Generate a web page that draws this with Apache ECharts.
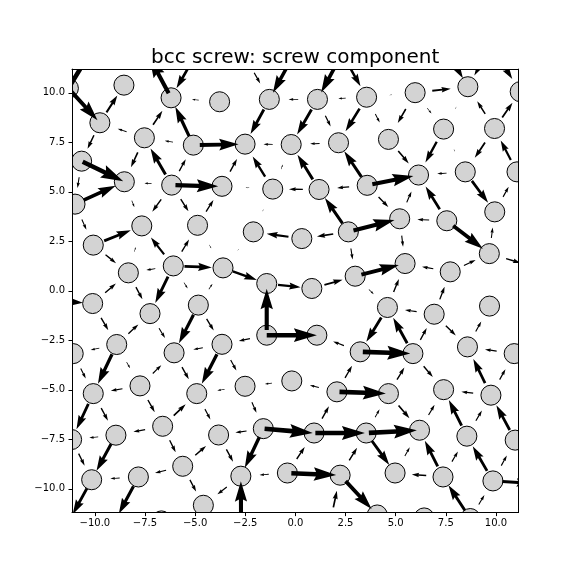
<!DOCTYPE html>
<html><head><meta charset="utf-8">
<script src="https://cdn.jsdelivr.net/npm/echarts@6/dist/echarts.min.js"></script>
<style>html,body{margin:0;padding:0;background:#fff}#c{width:576px;height:576px}</style>
</head><body><div id="c"></div>
<script>
// atom positions (data units); 1-based numbering in arrow lists
const atomX = [
 -11.32,-8.55,-6.20,-3.78,-1.30,1.10,3.55,5.97,8.60,11.21,
 -9.75,-7.53,-5.09,-2.51,-0.21,2.15,4.64,7.39,9.93,
 -10.66,-8.53,-6.17,-3.66,-1.13,1.18,3.58,6.14,8.47,11.05,
 -10.99,-7.66,-4.88,-2.10,0.32,2.64,5.20,7.55,9.94,
 -10.08,-8.33,-6.09,-3.61,-1.43,0.82,2.98,5.47,7.72,9.67,
 -10.11,-7.25,-4.84,4.59,6.92,9.68,
 -11.08,-8.91,-6.05,-3.66,-1.43,1.07,3.23,5.86,8.58,10.91,
 -10.08,-7.75,-4.92,-2.51,-0.18,2.07,4.64,7.39,9.75,
 -11.16,-8.95,-6.62,-3.83,-1.60,0.93,3.53,6.19,8.55,10.96,
 -10.16,-7.83,-5.62,-2.72,-0.40,2.23,4.97,7.36,9.85,
 -6.68,-4.59,4.08,6.42,8.72,1.73,-9.05,-11.34,-2.71,
 -10.0,-7.40,-5.00,-2.51,-0.11,2.33,4.83,7.37,9.77,
 -13.05,-12.54,12.06,12.21
];
const atomY = [
 10.23,10.39,9.75,9.55,9.67,9.67,9.78,10.01,10.31,10.06,
 8.49,7.73,7.36,7.41,7.39,7.48,7.65,8.17,8.20,
 6.55,5.51,5.34,5.28,5.14,5.12,5.33,5.85,6.01,6.01,
 4.38,3.28,3.31,2.98,2.64,2.98,3.64,3.54,3.99,
 2.31,0.91,1.26,1.16,0.37,0.12,0.74,1.38,0.96,1.88,
 -0.64,-1.15,-0.72,-0.84,-1.18,-0.77,
 -3.17,-2.71,-3.13,-2.70,-2.24,-2.24,-3.08,-3.17,-2.83,-3.17,
 -5.19,-4.80,-5.19,-4.82,-4.55,-5.10,-5.19,-4.99,-5.27,
 -7.51,-7.29,-6.84,-7.28,-6.96,-7.18,-7.18,-7.04,-7.34,-7.54,
 -9.54,-9.40,-8.86,-9.36,-9.20,-9.31,-9.20,-9.40,-9.60,
 -11.62,-10.83,-11.32,-11.47,-11.50,-11.72,-11.72,-11.72,-11.93,
 12.43,12.03,11.87,11.82,11.87,11.98,12.18,12.43,12.38,
 7.38,-0.45,1.16,-9.75
];
// differential-displacement arrows: from atom -> to atom, fraction of neighbour distance
const arrowFrom = [
 1,1,11,3,104,4,12,13,12,13, 13,11,12,22,22,20,30,20,22,22,
 21,22,22,32,111,105,106,107,107,6, 7,5,6,6,7,15,16,23,24,24,
 25,26,24,25,26,35,24,109,110,110, 8,7,8,8,9,19,19,17,18,18,
 19,29,26,28,28,38,26,36,37,7, 30,39,40,41,41,32,39,41,41,41,
 41,51,40,49,112,49,56,50,51,51, 56,58,56,56,58,34,35,35,42,42,
 43,44,35,45,59,59,59,61,58,52, 61,37,37,48,36,45,47,47,48,52,
 53,53,62,62,53,63,64,73,55,66, 57,68,66,66,65,65,76,67,76,75,
 75,74,76,86,85,86,86,84,85,69, 70,70,70,68,79,78,79,78,78,77,
 88,89,88,88,87,101,98,89,71,62, 73,73,80,71,81,82,82,83,80,80,
 90,91,91,92,92,91,92,97,97
];
const arrowTo = [
 102,11,2,103,3,3,3,3,11,12, 14,20,21,12,13,21,21,30,21,23,
 31,31,32,23,20,5,5,6,7,5, 6,14,15,16,16,14,15,14,14,15,
 15,16,23,24,25,25,33,9,9,10, 9,17,17,18,18,9,10,27,27,28,
 28,19,27,27,38,29,36,27,27,8, 39,31,31,31,32,42,40,40,42,50,
 51,42,50,40,49,56,50,57,57,58, 55,57,65,66,67,33,34,36,33,43,
 44,45,45,52,43,60,58,60,68,61, 62,36,48,38,46,46,46,48,113,46,
 47,52,52,53,63,54,63,63,65,57, 67,67,65,76,74,75,67,77,75,74,
 84,84,86,77,84,85,94,100,99,68, 69,61,71,78,70,79,80,77,87,87,
 79,80,89,87,94,87,89,95,62,72, 64,72,71,81,72,72,73,73,81,90,
 81,81,82,82,83,90,114,91,92
];
const arrowFrac = [
 .95,.85,.45,.8,.55,.14,.35,.62,.2,.17, .75,.35,.34,.55,.3,.95,.65,.25,.15,.85,
 .15,.3,.3,.3,.6,.25,.7,.7,.5,.2, .15,.55,.55,.25,.5,.2,.2,.3,.45,.1,
 .55,.6,.07,.3,.25,.6,.05,.6,.45,.45, .35,.2,.3,.15,.05,.3,.4,.35,.45,.05,
 .35,.45,.8,.2,.55,.25,.3,.25,.5,.05, .25,.55,.1,.42,.3,.08,.3,.2,.55,.55,
 .15,.15,.3,.3,.6,.3,.3,.25,.6,.3, .2,.2,.6,.15,.6,.45,.35,.8,.05,.55,
 .5,.42,.25,.15,.8,1.0,.25,.25,.25,.55, .9,.25,.7,.25,.25,.75,.25,.3,.3,.3,
 .3,.25,.55,.3,.3,.25,.25,.5,.25,.25, .3,.15,.25,.3,.55,.3,.35,.25,.25,.2,
 .6,.3,.3,.3,.2,.25,.3,.6,.6,.15, .2,.3,.9,.25,.3,.95,.95,.25,.65,.3,
 .3,.3,.85,.2,.25,.8,.35,.7,.3,.3, .25,.25,.2,.35,.25,.55,.25,.55,.9,.6,
 .2,.55,.25,.55,.25,.3,.6,.6,.25
];
const tickValues = [-10, -7.5, -5, -2.5, 0, 2.5, 5, 7.5, 10];
const titleText = 'bcc screw: screw component';

const fmt = v => (v < 0 ? '\u2212' : '') + Math.abs(v).toFixed(1);
const FONT = 'DejaVu Sans';

const atomData = atomX.map((x, i) => [x, atomY[i]]);
const arrowData = arrowFrom.map((f, k) => [f - 1, arrowTo[k] - 1, arrowFrac[k]]);

function renderAtom(params, api) {
  const p = api.coord([api.value(0), api.value(1)]);
  const r = api.size([0.5, 0])[0];
  return { type: 'circle', shape: { cx: p[0], cy: p[1], r: r },
           style: { fill: '#d3d3d3', stroke: '#000', lineWidth: 1 } };
}
function renderArrow(params, api) {
  const i = api.value(0), j = api.value(1), f = api.value(2);
  const p1 = api.coord([atomX[i], atomY[i]]);
  const p2 = api.coord([atomX[j], atomY[j]]);
  const dx = p2[0] - p1[0], dy = p2[1] - p1[1];
  const d = Math.hypot(dx, dy);
  const ux = dx / d, uy = dy / d, nx = -uy, ny = ux;
  const L = f * d;
  const mx = (p1[0] + p2[0]) / 2, my = (p1[1] + p2[1]) / 2;
  const tx = mx - ux * L / 2, ty = my - uy * L / 2;
  const W = 4.6, minLen = 10 * W;
  let xs, ys;
  if (L >= minLen) {
    xs = [0, L - 4.5 * W, L - 5 * W, L]; ys = [0.5 * W, 0.5 * W, 1.5 * W, 0];
  } else {
    const s = L / minLen;
    xs = [0, 5.5 * W * s, 5 * W * s, 10 * W * s]; ys = [0.5 * W * s, 0.5 * W * s, 1.5 * W * s, 0];
  }
  const seq = [[0,1],[1,1],[2,1],[3,0],[2,-1],[1,-1],[0,-1]];
  const pts = seq.map(([k, sg]) => {
    const a = xs[k], b = sg * ys[k];
    return [tx + ux * a + nx * b, ty + uy * a + ny * b];
  });
  return { type: 'polygon', shape: { points: pts }, style: { fill: '#000' } };
}

const axisCommon = {
  type: 'value', splitLine: { show: false },
  axisLine: { show: true, onZero: false, lineStyle: { color: '#000', width: 1 } },
  z: 10
};
const chart = echarts.init(document.getElementById('c'), null, { renderer: 'canvas' });
chart.setOption({
  animation: false,
  backgroundColor: '#fff',
  title: { text: titleText, left: 295.2, textAlign: 'center', top: 48, padding: 0,
           textStyle: { fontFamily: FONT, fontSize: 20, fontWeight: 'normal', color: '#000' } },
  grid: { left: 72, right: 57.6, top: 69.1, bottom: 63.4, containLabel: false },
  xAxis: [
    Object.assign({}, axisCommon, { position: 'bottom', min: -11.14, max: 11.12,
      axisTick: { show: true, length: 3.5, inside: false, customValues: tickValues, lineStyle: { color: '#000' } },
      axisLabel: { show: true, customValues: tickValues, formatter: fmt, margin: 6,
                   fontFamily: FONT, fontSize: 10, color: '#000' } }),
    Object.assign({}, axisCommon, { position: 'top', min: -11.14, max: 11.12,
      axisTick: { show: false }, axisLabel: { show: false } })
  ],
  yAxis: [
    Object.assign({}, axisCommon, { position: 'left', min: -11.2, max: 11.2,
      axisTick: { show: true, length: 3.5, inside: false, customValues: tickValues, lineStyle: { color: '#000' } },
      axisLabel: { show: true, customValues: tickValues, formatter: fmt, margin: 7,
                   fontFamily: FONT, fontSize: 10, color: '#000' } }),
    Object.assign({}, axisCommon, { position: 'right', min: -11.2, max: 11.2,
      axisTick: { show: false }, axisLabel: { show: false } })
  ],
  series: [
    { type: 'custom', name: 'atoms', coordinateSystem: 'cartesian2d', xAxisIndex: 0, yAxisIndex: 0,
      clip: true, z: 2, renderItem: renderAtom, data: atomData },
    { type: 'custom', name: 'arrows', coordinateSystem: 'cartesian2d', xAxisIndex: 0, yAxisIndex: 0,
      clip: true, z: 3, renderItem: renderArrow, data: arrowData }
  ]
});
</script></body></html>
